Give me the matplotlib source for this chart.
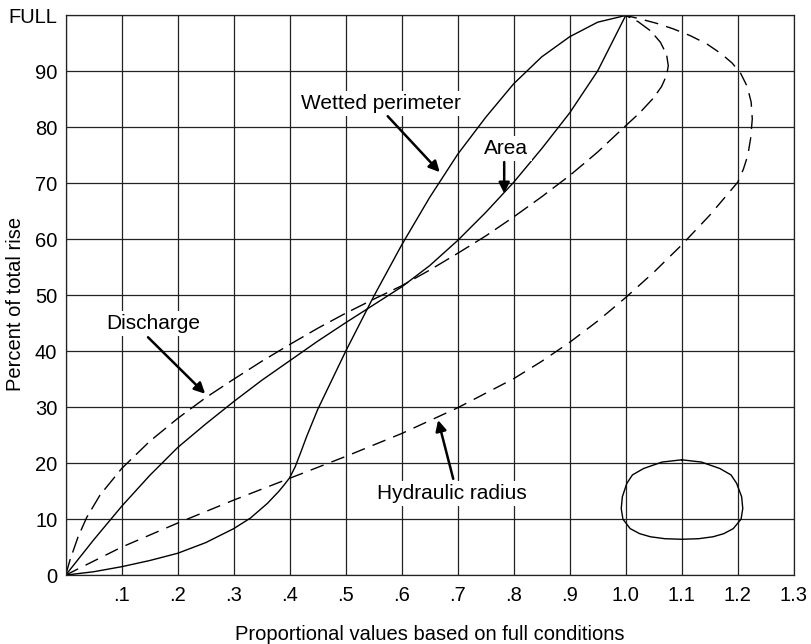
import numpy as np
import matplotlib
matplotlib.use("Agg")
import matplotlib.pyplot as plt

plt.rcParams['font.family'] = ['Liberation Sans', 'DejaVu Sans']

# wetted perimeter (solid)
wp_x = [0, 0.05, 0.1, 0.15, 0.2, 0.25, 0.3, 0.33, 0.36, 0.38, 0.39, 0.4, 0.41, 0.42,
        0.43, 0.45, 0.5, 0.55, 0.6, 0.65, 0.7, 0.75, 0.8, 0.85, 0.9, 0.95, 1.0]
wp_y = [0, 0.6, 1.5, 2.6, 3.9, 5.8, 8.3, 10.2, 12.8, 14.9, 16.1, 17.4, 19.4, 22.0,
        24.7, 29.6, 40.0, 49.8, 59.0, 67.5, 75.2, 81.8, 87.8, 92.6, 96.2, 98.8, 100]

# area (solid)
ar_x = [0, 0.05, 0.1, 0.15, 0.2, 0.25, 0.3, 0.35, 0.4, 0.45, 0.5, 0.55, 0.6,
        0.65, 0.7, 0.75, 0.8, 0.85, 0.9, 0.95, 1.0]
ar_y = [0, 6.3, 12.3, 17.8, 22.8, 27.0, 31.0, 34.8, 38.3, 41.8, 45.1, 48.3, 51.5,
        55.3, 59.8, 64.8, 70.2, 76.2, 82.6, 90.1, 100]

# discharge (dashed)
dc_x = [0, 0.0077, 0.022, 0.0375, 0.0613, 0.1, 0.15, 0.2, 0.25, 0.3, 0.35, 0.4, 0.45,
        0.5, 0.55, 0.6, 0.65, 0.7, 0.75, 0.8, 0.85, 0.9, 0.95, 1.0, 1.025, 1.05,
        1.064, 1.073, 1.076, 1.073, 1.062, 1.045, 1.022, 1.0]
dc_y = [0, 2.7, 6.8, 10.3, 14.3, 19.05, 23.9, 28.0, 31.7, 35.0, 38.2, 41.2, 44.1,
        46.8, 49.3, 51.7, 54.5, 57.5, 60.6, 64.0, 67.6, 71.4, 75.6, 80.3, 82.6, 85.3,
        87.3, 89.3, 91.0, 93.0, 95.2, 97.2, 98.9, 100]

# hydraulic radius (dashed)
hr_x = [0, 0.1, 0.2, 0.3, 0.4, 0.5, 0.6, 0.7, 0.8, 0.85, 0.9, 0.95, 1.0, 1.05, 1.1,
        1.15, 1.2, 1.21, 1.218, 1.223, 1.226, 1.224, 1.217, 1.205, 1.19, 1.17, 1.145,
        1.115, 1.085, 1.055, 1.025, 1.0]
hr_y = [0, 5.0, 9.3, 13.4, 17.3, 21.2, 25.3, 29.9, 35.1, 38.2, 41.6, 45.4, 49.6, 54.1, 59.0,
        64.3, 70.2, 72.5, 75.0, 78.0, 81.5, 84.5, 87.3, 89.7, 91.5, 93.2, 94.9,
        96.4, 97.6, 98.6, 99.4, 100]

# sewer cross-section outline
cs_x = [1.1, 1.135, 1.168, 1.188, 1.198, 1.207, 1.209, 1.206, 1.192, 1.175, 1.156, 1.13,
        1.1, 1.07, 1.044, 1.025, 1.008, 0.995, 0.992, 0.994, 1.002, 1.012, 1.032, 1.065, 1.1]
cs_y = [20.6, 20.2, 19.05, 17.9, 16.4, 14, 11.9, 10.0, 8.3, 7.4, 6.85, 6.5,
        6.4, 6.5, 6.85, 7.4, 8.3, 10.0, 11.9, 14, 16.4, 17.9, 19.05, 20.2, 20.6]

x_ticks = [0, .1, .2, .3, .4, .5, .6, .7, .8, .9, 1.0, 1.1, 1.2, 1.3]
x_labels = ['', '.1', '.2', '.3', '.4', '.5', '.6', '.7', '.8', '.9', '1.0', '1.1', '1.2', '1.3']
y_ticks = [0, 10, 20, 30, 40, 50, 60, 70, 80, 90, 100]
y_labels = ['0', '10', '20', '30', '40', '50', '60', '70', '80', '90', 'FULL']

fig = plt.figure(figsize=(8.11, 6.44), dpi=100)
ax = fig.add_axes([0.081, 0.107, 0.8977, 0.869])

lw = 1.0
ax.plot(wp_x, wp_y, color='black', lw=lw)
ax.plot(ar_x, ar_y, color='black', lw=lw)
ax.plot(dc_x, dc_y, color='black', lw=lw, linestyle=(0, (12, 5)))
ax.plot(hr_x, hr_y, color='black', lw=lw, linestyle=(0, (10, 6)))
ax.plot(cs_x, cs_y, color='black', lw=lw)

ax.set_xlim(0, 1.3)
ax.set_ylim(0, 100)
ax.set_xticks(x_ticks)
ax.set_xticklabels(x_labels)
ax.set_yticks(y_ticks)
ax.set_yticklabels(y_labels)
ax.tick_params(length=0, labelsize=14.5, colors='black')
ax.tick_params(axis='x', pad=8)
ax.tick_params(axis='y', pad=6)
ax.grid(color='#222222', lw=0.9)
ax.set_axisbelow(True)
for s in ax.spines.values():
    s.set_color('#222222')
    s.set_linewidth(0.9)

ax.set_xlabel('Proportional values based on full conditions', fontsize=14.5, labelpad=14)
ax.set_ylabel('Percent of total rise', fontsize=14.5)
ax.yaxis.set_label_coords(-0.056, 0.485)

box = dict(boxstyle='square,pad=0.15', fc='white', ec='none')
arrow = dict(arrowstyle='-|>', color='black', lw=1.8, mutation_scale=16, shrinkA=0, shrinkB=0)

labels = [
    ('Wetted perimeter', (0.563, 84.3), (0.575, 82), (0.668, 72)),
    ('Area', (0.787, 76.2), (0.783, 73.8), (0.783, 68.2)),
    ('Discharge', (0.156, 44.9), (0.147, 42.5), (0.249, 32.4)),
    ('Hydraulic radius', (0.69, 14.6), (0.692, 17.2), (0.665, 27.7)),
]
for txt, tpos, a0, a1 in labels:
    ax.text(tpos[0], tpos[1], txt, fontsize=15, ha='center', va='center', bbox=box, zorder=4)
    ax.annotate('', xy=a1, xytext=a0, arrowprops=arrow, zorder=5)

fig.savefig('out.png', dpi=100)
